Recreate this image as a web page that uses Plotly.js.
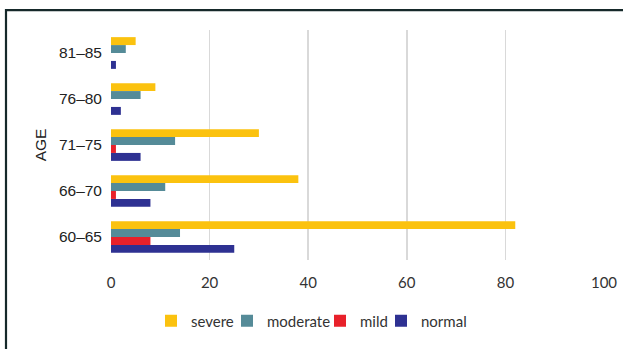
<!DOCTYPE html>
<html>
<head>
<meta charset="utf-8">
<script src="https://cdn.plot.ly/plotly-3.0.1.min.js"></script>
<style>
  html, body { margin: 0; padding: 0; background: #ffffff; }
  #chart { width: 623px; height: 349px; }
</style>
</head>
<body>
<div id="chart"></div>
<script>
// Age groups, bottom to top
const ageGroups = ['60–65', '66–70', '71–75', '76–80', '81–85'];

// Counts per severity level for each age group
const severe   = [82, 38, 30, 9, 5];
const moderate = [14, 11, 13, 6, 3];
const mild     = [8, 1, 1, 0, 0];
const normal   = [25, 8, 6, 2, 1];

const xTicks = [0, 20, 40, 60, 80, 100];

const colors = {
  severe: '#FBC20F',
  moderate: '#558B98',
  mild: '#E8212A',
  normal: '#2E3192'
};

const L = 111, R = 19, T = 30, B = 87;
const W = 623, H = 349;
const pw = W - L - R, ph = H - T - B;
const px = v => (v - L) / pw;
const py = v => (H - B - v) / ph;

const legendFont = { family: 'Lato, Liberation Sans, Arial, sans-serif', size: 15, color: '#333333' };

// Each series gets its own legend box so the key reads as one tight row;
// textLeft is where the entry's label starts, in pixels.
function legendBox(textLeft) {
  return {
    orientation: 'h',
    x: px(textLeft - 40),
    xanchor: 'left',
    y: py(323.5),
    yanchor: 'middle',
    font: legendFont,
    itemwidth: 30,
    bgcolor: 'rgba(0,0,0,0)',
    borderwidth: 0
  };
}

// Horizontal grouped bars: first trace sits lowest within each group,
// so the traces are listed normal -> severe to put severe on top.
function series(name, values, color, legendId) {
  return {
    type: 'bar',
    orientation: 'h',
    name: name,
    y: ageGroups,
    x: values,
    legend: legendId,
    marker: { color: color, line: { width: 0 } },
    hoverinfo: 'x+y+name'
  };
}

const data = [
  series('normal', normal, colors.normal, 'legend4'),
  series('mild', mild, colors.mild, 'legend3'),
  series('moderate', moderate, colors.moderate, 'legend2'),
  series('severe', severe, colors.severe, 'legend')
];

const layout = {
  width: W,
  height: H,
  margin: { l: L, r: R, t: T, b: B, pad: 0 },
  paper_bgcolor: '#ffffff',
  plot_bgcolor: '#ffffff',
  barmode: 'group',
  bargap: 0.31,
  bargroupgap: 0,
  font: { family: 'Liberation Sans, Arial, sans-serif', color: '#222222' },
  xaxis: {
    range: [0, 100],
    tickvals: xTicks,
    ticktext: xTicks.map(String),
    showgrid: true,
    gridcolor: '#d9d9d9',
    gridwidth: 1.6,
    zeroline: false,
    showline: false,
    ticks: '',
    ticklabelstandoff: 12,
    tickfont: { family: 'Lato, Liberation Sans, Arial, sans-serif', size: 15, color: '#333333' },
    fixedrange: true
  },
  yaxis: {
    type: 'category',
    categoryorder: 'array',
    categoryarray: ageGroups,
    showgrid: false,
    zeroline: false,
    showline: false,
    ticks: '',
    ticklabelstandoff: 8,
    tickfont: { family: 'Liberation Sans, Arial, sans-serif', size: 15.5, color: '#222222' },
    title: {
      text: 'AGE',
      font: { family: 'Liberation Sans, Arial, sans-serif', size: 15.5, color: '#222222' },
      standoff: 8
    },
    fixedrange: true
  },
  legend: legendBox(191),
  legend2: legendBox(267),
  legend3: legendBox(360),
  legend4: legendBox(421),
  shapes: [
    {
      type: 'rect',
      xref: 'paper', yref: 'paper',
      x0: px(6), x1: px(640),
      y0: py(370), y1: py(10),
      line: { color: '#16292a', width: 2.2 },
      fillcolor: 'rgba(0,0,0,0)',
      layer: 'above'
    }
  ],
  showlegend: true
};

Plotly.newPlot('chart', data, layout, { displayModeBar: false, staticPlot: true });
</script>
</body>
</html>
